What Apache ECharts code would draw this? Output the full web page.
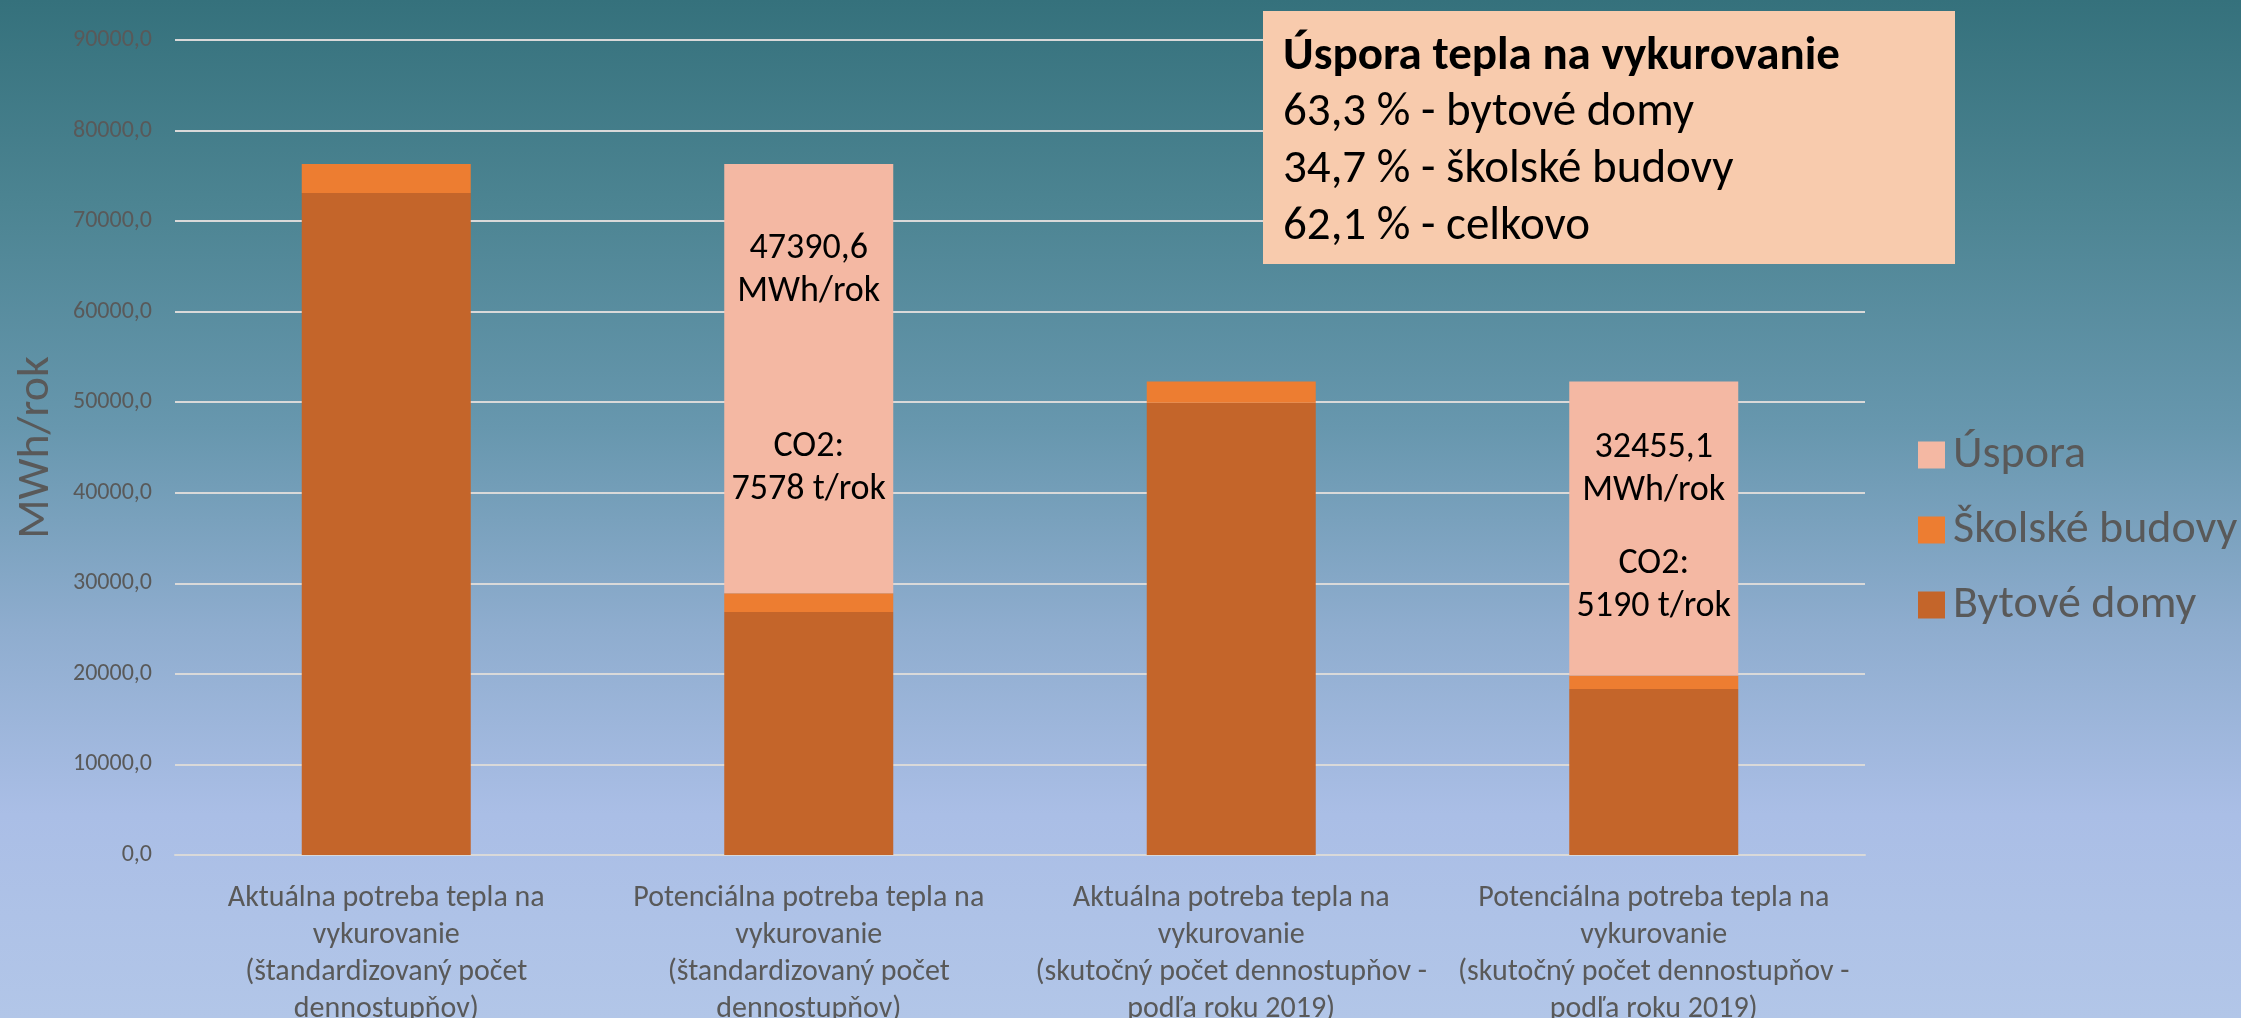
<!DOCTYPE html>
<html>
<head>
<meta charset="utf-8">
<script src="https://cdn.jsdelivr.net/npm/echarts@6/dist/echarts.min.js"></script>
<style>
html,body{margin:0;padding:0;width:2241px;height:1018px;overflow:hidden;}
#c{width:2241px;height:1018px;background:linear-gradient(to bottom,#35717C 0%,#4C8492 20%,#6797AE 42%,#8FADCF 62%,#AABEE6 80%,#B2C6E8 100%);}
</style>
</head>
<body>
<div id="c"></div>
<script>
// ---- data ----
const categories = [
  'Aktuálna potreba tepla na\nvykurovanie\n(štandardizovaný počet\ndennostupňov)',
  'Potenciálna potreba tepla na\nvykurovanie\n(štandardizovaný počet\ndennostupňov)',
  'Aktuálna potreba tepla na\nvykurovanie\n(skutočný počet dennostupňov -\npodľa roku 2019)',
  'Potenciálna potreba tepla na\nvykurovanie\n(skutočný počet dennostupňov -\npodľa roku 2019)'
];
const bytoveDomy = [73100, 26830, 49950, 18340];
const skolskeBudovy = [3200, 2080, 2325, 1480];
const uspora = [null, 47390.6, null, 32455.1];
const co2 = [null, 7578, null, 5190];
const yTicks = [0, 10000, 20000, 30000, 40000, 50000, 60000, 70000, 80000, 90000];
const boxTitle = 'Úspora tepla na vykurovanie';
const boxLines = ['63,3 % - bytové domy', '34,7 % - školské budovy', '62,1 % - celkovo'];

const FONT = 'Carlito, Lato, "Liberation Sans", sans-serif';
const GRAY = '#595959';
const gapHeights = [0, 112, 0, 30];
const labelOffsets = [0, -9, 0, -1];

const fmt = v => v.toFixed(1).replace('.', ',');

const usporaData = uspora.map((v, i) => {
  if (v == null) return '-';
  return {
    value: v,
    label: {
      show: true,
      position: 'inside',
      offset: [0, labelOffsets[i]],
      formatter: '{a|' + fmt(v) + '}\n{a|MWh/rok}\n{g' + i + '| }\n{a|CO2:}\n{a|' + co2[i] + ' t/rok}',
      rich: Object.assign({
        a: {fontFamily: FONT, fontSize: 36, lineHeight: 43, color: '#000', align: 'center'}
      }, {['g' + i]: {fontSize: 10, lineHeight: gapHeights[i]}})
    }
  };
});

const chart = echarts.init(document.getElementById('c'), null, {renderer: 'canvas'});
chart.setOption({
  backgroundColor: 'transparent',
  animation: false,
  textStyle: {fontFamily: FONT},
  grid: {left: 175, right: 376, top: 40, bottom: 163, containLabel: false, outerBoundsMode: 'none'},
  legend: {
    orient: 'vertical',
    left: 1913,
    top: 426,
    itemWidth: 27,
    itemHeight: 27,
    itemGap: 27,
    icon: 'rect',
    data: ['Úspora', 'Školské budovy', 'Bytové domy'],
    textStyle: {fontFamily: FONT, fontSize: 46, lineHeight: 48, color: GRAY, padding: [0, 0, 0, 3]}
  },
  xAxis: {
    type: 'category',
    data: categories,
    axisTick: {show: false},
    axisLine: {show: true, lineStyle: {color: '#D9D9D9', width: 2}},
    axisLabel: {interval: 0, fontFamily: FONT, fontSize: 30, lineHeight: 37, color: GRAY, margin: 25}
  },
  yAxis: {
    type: 'value',
    min: yTicks[0],
    max: yTicks[yTicks.length - 1],
    interval: yTicks[1] - yTicks[0],
    name: 'MWh/rok',
    nameLocation: 'middle',
    nameGap: 116,
    nameTextStyle: {fontFamily: FONT, fontSize: 46, color: GRAY},
    axisLine: {show: false},
    axisTick: {show: false},
    splitLine: {lineStyle: {color: '#D9D9D9', width: 2}},
    axisLabel: {fontFamily: FONT, fontSize: 24, color: GRAY, margin: 23, formatter: fmt}
  },
  series: [
    {name: 'Bytové domy', type: 'bar', stack: 's', barWidth: '40%', data: bytoveDomy, itemStyle: {color: '#C4652A'}},
    {name: 'Školské budovy', type: 'bar', stack: 's', barWidth: '40%', data: skolskeBudovy, itemStyle: {color: '#ED7D31'}},
    {name: 'Úspora', type: 'bar', stack: 's', barWidth: '40%', data: usporaData, itemStyle: {color: '#F4B8A3'}}
  ],
  graphic: [
    {
      type: 'group',
      left: 1263,
      top: 11,
      z: 100,
      children: [
        {type: 'rect', z: 100, shape: {x: 0, y: 0, width: 692, height: 253}, style: {fill: '#F8CBAD'}},
        {type: 'text', z: 101, x: 20, y: 18, style: {
          text: '{b|' + boxTitle + '}\n' + boxLines.map(s => '{n|' + s + '}').join('\n'),
          rich: {
            b: {fontFamily: FONT, fontSize: 47, fontWeight: 'bold', lineHeight: 56, fill: '#000'},
            n: {fontFamily: FONT, fontSize: 47, lineHeight: 57, fill: '#000'}
          }
        }}
      ]
    }
  ]
});
</script>
</body>
</html>
